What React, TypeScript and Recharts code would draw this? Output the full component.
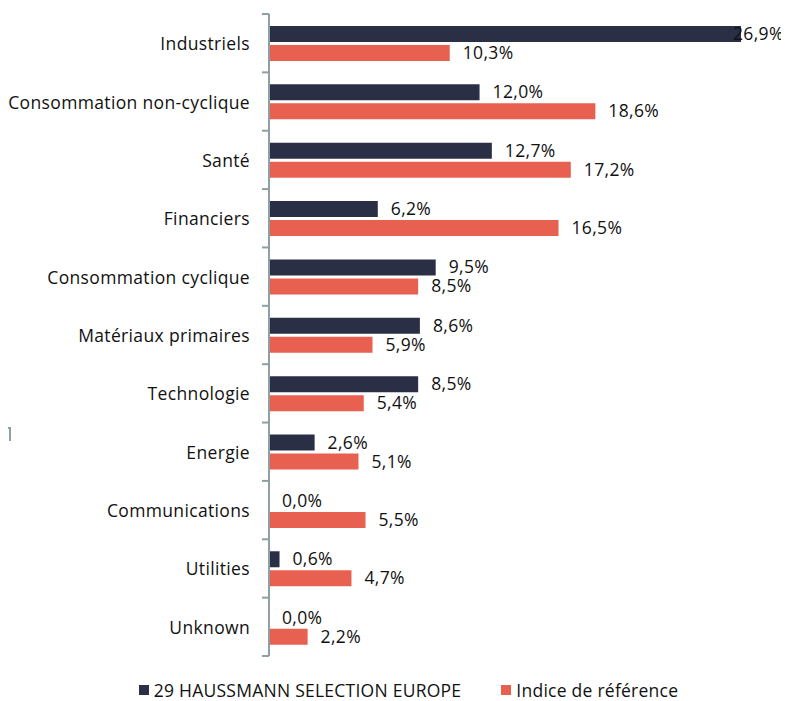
import React from 'react';
import { BarChart, Bar, XAxis, YAxis, Legend, LabelList } from 'recharts';

const categories = [
  'Industriels',
  'Consommation non-cyclique',
  'Santé',
  'Financiers',
  'Consommation cyclique',
  'Matériaux primaires',
  'Technologie',
  'Energie',
  'Communications',
  'Utilities',
  'Unknown',
];
const fundValues = [26.9, 12.0, 12.7, 6.2, 9.5, 8.6, 8.5, 2.6, 0.0, 0.6, 0.0];
const indexValues = [10.3, 18.6, 17.2, 16.5, 8.5, 5.9, 5.4, 5.1, 5.5, 4.7, 2.2];
const seriesNames = ['29 HAUSSMANN SELECTION EUROPE', 'Indice de référence'];

const data = categories.map((name, i) => ({ name, fund: fundValues[i], index: indexValues[i] }));

const DARK = '#2b2f45';
const RED = '#e8604f';
const AXIS = '#8e9fa5';
const FONT = '"Open Sans", sans-serif';
const FS = 17.5;
const LS = 0.35;

const W = 781;
const H = 693;
const LEGEND_H = 20;
const MARGIN = { top: 6, right: 48, bottom: 25, left: 0 };
const Y_WIDTH = 261;
const AX = MARGIN.left + Y_WIDTH;
const PLOT_RIGHT = W - MARGIN.right;
const BAND = (H - MARGIN.top - MARGIN.bottom - LEGEND_H) / categories.length;

const fmt = (v: number) => v.toFixed(1).replace('.', ',') + '%';

// category label + boundary tick marks (ticks sit between categories)
const CategoryTick = (props: any) => {
  const { y, payload, index } = props;
  return (
    <g>
      <line x1={AX - 7} x2={AX} y1={y - BAND / 2} y2={y - BAND / 2} stroke={AXIS} strokeWidth={2} />
      {index === categories.length - 1 && (
        <line x1={AX - 7} x2={AX} y1={y + BAND / 2} y2={y + BAND / 2} stroke={AXIS} strokeWidth={2} />
      )}
      <text
        x={AX - 19}
        y={y}
        textAnchor="end"
        dominantBaseline="central"
        fontSize={FS}
        letterSpacing={LS}
        fill="#111"
        fontFamily={FONT}
      >
        {payload.value}
      </text>
    </g>
  );
};

const ValueLabel = (props: any) => {
  const { x, y, width, height, value } = props;
  const tx = Math.min(Number(x) + (Number(width) || 0) + 13, PLOT_RIGHT - 8);
  return (
    <text
      x={tx}
      y={Number(y) + Number(height) / 2 - 1}
      dominantBaseline="central"
      fontSize={FS}
      letterSpacing={LS}
      fill="#111"
      fontFamily={FONT}
    >
      {fmt(Number(value))}
    </text>
  );
};

const LegendContent = () => (
  <div
    style={{
      display: 'flex',
      justifyContent: 'center',
      paddingLeft: 20,
      fontFamily: FONT,
      fontSize: FS,
      letterSpacing: 0.25,
      lineHeight: `${LEGEND_H}px`,
      height: LEGEND_H,
      color: '#111',
    }}
  >
    {[DARK, RED].map((c, i) => (
      <div key={i} style={{ display: 'flex', alignItems: 'center', marginRight: i === 0 ? 40 : 0 }}>
        <span style={{ display: 'inline-block', width: 10, height: 10, background: c, marginRight: 5 }} />
        <span>{seriesNames[i]}</span>
      </div>
    ))}
  </div>
);

export default function App() {
  return (
    <div style={{ width: W, height: H, position: 'relative' }}>
      <div
        style={{
          position: 'absolute',
          left: -8,
          top: 419,
          width: 9,
          height: 12,
          borderTop: `2px solid ${AXIS}`,
          borderRight: `2px solid ${AXIS}`,
        }}
      />
      <BarChart width={W} height={H} data={data} layout="vertical" margin={MARGIN} barSize={16} barGap={3}>
        <XAxis type="number" domain={[0, 26.9]} hide />
        <YAxis
          type="category"
          dataKey="name"
          width={Y_WIDTH}
          axisLine={{ stroke: AXIS, strokeWidth: 2 }}
          tickLine={false}
          tick={<CategoryTick />}
          interval={0}
        />
        <Legend
          content={<LegendContent />}
          wrapperStyle={{ position: 'absolute', top: 672, left: 0, width: W }}
        />
        <Bar dataKey="fund" name={seriesNames[0]} fill={DARK} minPointSize={0.01} isAnimationActive={false}>
          <LabelList dataKey="fund" content={<ValueLabel />} />
        </Bar>
        <Bar dataKey="index" name={seriesNames[1]} fill={RED} isAnimationActive={false}>
          <LabelList dataKey="index" content={<ValueLabel />} />
        </Bar>
      </BarChart>
    </div>
  );
}
